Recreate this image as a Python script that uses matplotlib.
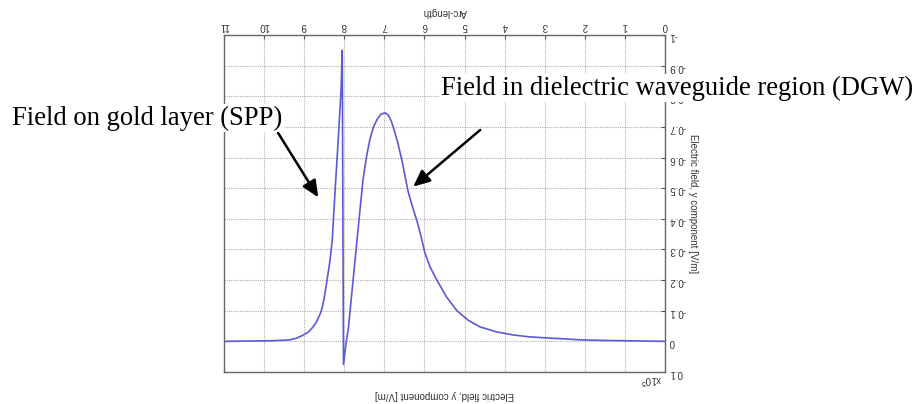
import matplotlib
matplotlib.use('Agg')
import matplotlib.pyplot as plt
import numpy as np

# field profile (arc-length in um, E_y in 1e5 V/m)
arc = [0.0, 1.0, 1.5, 2.12, 2.5, 2.94, 3.4, 3.79, 4.2, 4.61, 4.9, 5.19, 5.45,
       5.69, 5.86, 5.99, 6.08, 6.18, 6.3, 6.41, 6.56, 6.67, 6.78, 6.83, 6.9,
       6.98, 7.08, 7.18, 7.27, 7.36, 7.45, 7.53, 7.6, 7.66, 7.72, 7.78, 7.84,
       7.9, 7.95, 8.02, 8.05, 8.08, 8.15, 8.23, 8.30, 8.36, 8.43, 8.49, 8.55,
       8.6, 8.7, 8.78, 8.9, 9.03, 9.2, 9.35, 9.8, 10.5, 11.0]
ey = [0.0, -0.002, -0.003, -0.005, -0.008, -0.011, -0.015, -0.021, -0.031,
      -0.047, -0.068, -0.10, -0.145, -0.20, -0.243, -0.289, -0.34, -0.39,
      -0.44, -0.49, -0.59, -0.65, -0.70, -0.72, -0.738, -0.746, -0.742,
      -0.725, -0.70, -0.66, -0.60, -0.53, -0.44, -0.36, -0.28, -0.20, -0.12,
      -0.04, 0.0, 0.075, -0.95, -0.82, -0.66, -0.49, -0.33, -0.26, -0.20,
      -0.15, -0.11, -0.09, -0.062, -0.047, -0.03, -0.02, -0.01, -0.005,
      -0.002, -0.001, 0.0]

xticks = list(range(0, 12))
yticks = [-1, -0.9, -0.8, -0.7, -0.6, -0.5, -0.4, -0.3, -0.2, -0.1, 0, 0.1]
ytick_labels = ['-1', '-0.9', '-0.8', '-0.7', '-0.6', '-0.5', '-0.4', '-0.3',
                '-0.2', '-0.1', '0', '0.1']

plt.rcParams['font.family'] = ['Liberation Sans', 'DejaVu Sans']

fig = plt.figure(figsize=(9.18, 4.04), dpi=100)
ax = fig.add_axes([224/918, 1-372/404, (665-224)/918, (372-35)/404])

ax.plot(arc, ey, color='#5a5ad8', lw=1.2)

# the whole plot is shown rotated by 180 degrees
ax.set_xlim(11, 0)
ax.set_ylim(0.1, -1)
ax.set_xticks(xticks)
ax.set_xticklabels([str(t) for t in xticks], rotation=180, fontsize=7, color='#333333')
ax.set_yticks(yticks)
ax.set_yticklabels(ytick_labels, rotation=180, fontsize=7, color='#333333')
ax.xaxis.tick_top()
ax.yaxis.tick_right()
ax.tick_params(direction='in', length=3, width=0.8, color='#555555', pad=3)
ax.grid(True, ls=(0, (1, 1)), color='#b0b0b0', lw=0.8)
for s in ax.spines.values():
    s.set_color('#666666')
    s.set_linewidth(1.0)

ax.xaxis.set_label_position('top')
ax.set_xlabel('Arc-length', rotation=180, fontsize=7, color='#333333', labelpad=4)
ax.yaxis.set_label_position('right')
ax.set_ylabel('Electric field, y component [V/m]', rotation=270, fontsize=7,
              color='#333333', labelpad=5, va='center')
fig.text((224+665)/2/918, 1-395/404, 'Electric field, y component [V/m]',
         rotation=180, fontsize=7, color='#333333', ha='center', va='center')
fig.text(662/918, 1-380/404, r'x10$^5$', rotation=180, fontsize=7,
         color='#333333', ha='right', va='center')

# annotations
bb = dict(facecolor='white', edgecolor='none', pad=1)
fig.text(12/918, 1-118/404, 'Field on gold layer (SPP)', family='Liberation Serif',
         fontsize=19.2, ha='left', va='center', bbox=bb)
fig.text(441/918, 1-88/404, 'Field in dielectric waveguide region (DGW)',
         family='Liberation Serif', fontsize=19.2, ha='left', va='center', bbox=bb)
ap = dict(arrowstyle='-|>,head_length=1.0,head_width=0.45', color='black', lw=1.8,
          shrinkA=0, shrinkB=0)
ax.annotate('', xy=(8.65, -0.47), xytext=(9.65, -0.68), arrowprops=ap,
            annotation_clip=False)
ax.annotate('', xy=(6.28, -0.505), xytext=(4.61, -0.69), arrowprops=ap,
            annotation_clip=False)

fig.savefig('out.png', dpi=100)
